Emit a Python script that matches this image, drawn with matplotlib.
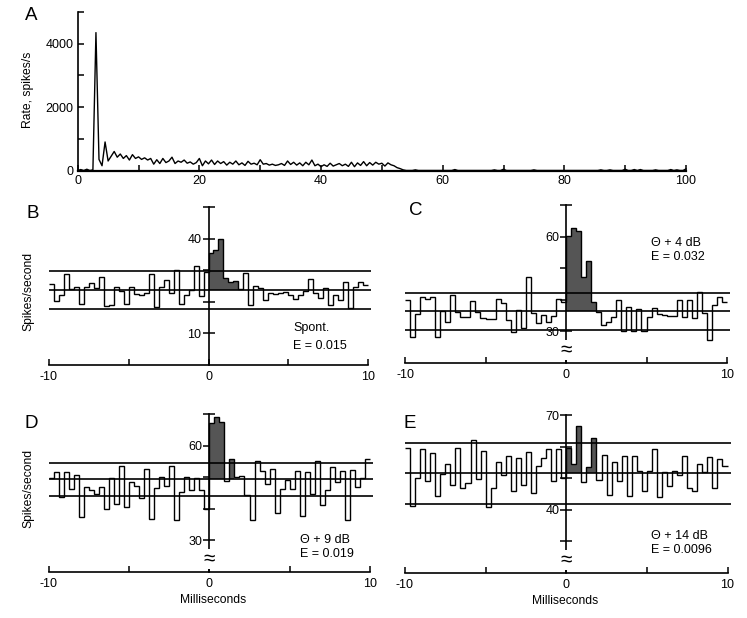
import numpy as np
import matplotlib
matplotlib.use('Agg')
import matplotlib.pyplot as plt

plt.rcParams['font.family'] = ['Liberation Sans', 'DejaVu Sans']

# ---- panel A: PSTH, 0.5 ms bins from 0 to 54 ms, then sparse late spikes
a_early = [0, 30, 0, 40, 0, 20, 4350, 350, 150, 900, 300, 450, 600, 420, 520, 380,
           470, 330, 500, 380, 430, 350, 400, 330, 380, 200, 340, 220, 380, 250,
           300, 420, 220, 300, 260, 330, 230, 270, 200, 250, 380, 150, 300, 210,
           330, 190, 300, 220, 280, 170, 260, 200, 300, 180, 240, 160, 290, 200,
           230, 180, 340, 200, 220, 170, 200, 160, 180, 220, 160, 300, 190, 260,
           170, 240, 150, 260, 180, 330, 150, 200, 120, 180, 130, 230, 140, 180,
           220, 150, 200, 130, 260, 120, 240, 160, 280, 150, 250, 170, 260, 200,
           230, 140, 240, 180, 150, 90, 60, 20, 0]
a_late_t = [55.5, 62, 68.5, 70, 75, 86, 87.5, 90, 91.5, 92.5, 95, 97.5, 98.5, 100]
a_late_rate = [20, 30, 20, 40, 20, 20, 20, 40, 30, 30, 20, 30, 20, 50]

# ---- panels B-E: 64 bins of 0.3125 ms from -10 to 10 ms (spikes/second)
b_rate = [25.6, 20.4, 22.2, 28.7, 24.1, 24.8, 19.4, 24.8, 25.9, 24.5, 27.8, 18.6,
          18.9, 24.8, 23.3, 19.3, 24.6, 22.5, 22.0, 22.8, 28.7, 18.3, 24.8, 26.9,
          22.8, 30.0, 19.4, 22.0, 23.6, 31.2, 21.7, 29.5,
          35.3, 36.3, 40.0, 27.5, 26.2, 26.6, 24.0, 29.2, 19.1, 25.1, 24.3, 20.7,
          22.8, 22.5, 22.8, 23.0, 22.2, 21.0, 22.0, 23.3, 27.1, 22.8, 21.2, 24.3,
          19.1, 22.0, 20.7, 26.2, 18.1, 24.8, 26.2, 25.4]
b_lines = [17.6, 23.6, 29.6]

c_rate = [39.9, 28.1, 35.4, 40.9, 40.2, 40.9, 28.1, 36.5, 32.9, 41.5, 36.25, 34.7,
          34.7, 39.6, 36.25, 34.2, 34.0, 34.0, 40.4, 38.9, 33.6, 29.8, 36.8, 31.0,
          47.2, 35.9, 32.6, 35.2, 32.9, 35.0, 40.4, 39.2,
          60.2, 62.8, 61.8, 47.2, 52.4, 39.2, 36.0, 32.1, 32.9, 34.7, 39.9, 30.0,
          37.8, 30.0, 37.0, 30.0, 34.7, 37.3, 35.4, 35.2, 34.9, 35.0, 39.9, 34.7,
          39.9, 34.2, 42.5, 35.7, 27.4, 38.3, 40.9, 39.2]
c_lines = [30.5, 36.3, 42.0]

d_rate = [49.6, 51.6, 43.6, 51.6, 46.4, 50.6, 37.5, 46.9, 45.9, 44.6, 46.9, 39.8,
          49.6, 41.5, 53.7, 40.7, 48.5, 47.1, 43.3, 52.7, 36.7, 46.7, 50.1, 47.1,
          53.7, 36.3, 45.4, 50.1, 45.9, 49.6, 45.9, 39.8,
          67.3, 69.1, 67.6, 48.8, 55.8, 50.1, 50.3, 44.3, 36.5, 55.0, 52.0, 47.8,
          52.7, 38.6, 46.4, 49.0, 46.4, 52.0, 37.7, 51.8, 44.8, 55.0, 41.2, 45.9,
          53.2, 48.5, 52.0, 36.5, 52.4, 46.9, 49.6, 55.8]
d_lines = [44.1, 49.3, 54.5]

e_rate = [59.6, 41.1, 50.2, 59.1, 49.1, 58.0, 44.3, 51.2, 54.5, 48.0, 59.5, 47.0,
          48.4, 62.0, 49.6, 58.7, 40.8, 47.0, 55.2, 50.9, 56.9, 45.9, 56.3, 48.0,
          58.4, 45.3, 53.9, 56.3, 59.1, 49.1, 59.3, 50.2,
          59.4, 54.6, 66.5, 48.8, 53.5, 62.6, 49.3, 57.4, 44.8, 55.0, 49.1, 56.9,
          44.3, 56.9, 52.3, 45.9, 52.3, 59.3, 44.0, 52.0, 47.5, 52.3, 50.9, 57.1,
          47.0, 45.9, 54.5, 52.0, 56.6, 47.0, 56.1, 54.0]
e_lines = [41.9, 51.6, 61.2]

W, H = 747, 618
fig = plt.figure(figsize=(W / 100, H / 100), dpi=100)


def px_axes(x0, x1, y0, y1):
    return fig.add_axes([x0 / W, 1 - y1 / H, (x1 - x0) / W, (y1 - y0) / H])


def px_text(x, y, s, **kw):
    fig.text(x / W, 1 - y / H, s, **kw)


# ---------------- A
ax = px_axes(77.7, 686, 12, 170.5)
t = np.arange(0, 100.5, 0.5)
rate = np.zeros(len(t))
rate[:len(a_early)] = a_early
for lt, lr in zip(a_late_t, a_late_rate):
    rate[int(round(lt / 0.5))] = lr
ax.plot(t, rate, color='k', lw=1.0, clip_on=False)
ax.set_xlim(0, 100)
ax.set_ylim(0, 5000)
for s in ['top', 'right']:
    ax.spines[s].set_visible(False)
ax.spines['left'].set_linewidth(1.2)
ax.spines['bottom'].set_linewidth(1.6)
ax.set_xticks(np.arange(0, 101, 10))
ax.set_xticklabels([str(v) if v % 20 == 0 else '' for v in range(0, 101, 10)])
ax.set_yticks(np.arange(0, 5001, 1000))
ax.set_yticklabels(['0', '', '2000', '', '4000', ''])
ax.tick_params(direction='in', length=4, width=1.1, labelsize=9, pad=3)
px_text(28, 90, 'Rate, spikes/s', rotation=90, ha='center', va='center', fontsize=8.7)
px_text(31, 15, 'A', ha='center', va='center', fontsize=13.5)


def psth_panel(ax, vals, lines, fill_end, ylim, yticks, ylabels, brk):
    vals = np.array(vals)
    edges = np.linspace(-10, 10, len(vals) + 1)
    lo, mean, hi = lines
    ax.set_xlim(-10, 10)
    ax.set_ylim(*ylim)
    idx = np.where((edges[:-1] >= 0) & (edges[:-1] < fill_end))[0]
    ax.stairs(np.maximum(vals[idx], mean), edges[idx[0]:idx[-1] + 2], baseline=mean,
              fill=True, color='#555555', lw=0, zorder=2)
    ax.stairs(vals, edges, baseline=None, color='k', lw=1.0, zorder=3, clip_on=False)
    ax.hlines(lines, -10, 10.2, color='k', lw=1.2, zorder=3, clip_on=False)
    for s in ['top', 'right']:
        ax.spines[s].set_visible(False)
    ax.spines['left'].set_position(('data', 0))
    ax.spines['left'].set_linewidth(1.2)
    ax.spines['bottom'].set_linewidth(1.2)
    ax.set_xticks([-10, -5, 0, 5, 10])
    ax.set_xticklabels(['-10', '', '0', '', '10'])
    ax.set_yticks(yticks)
    ax.set_yticklabels(ylabels)
    ax.tick_params(axis='y', direction='inout', length=8, width=1.1, pad=1, labelsize=9)
    ax.tick_params(axis='x', direction='in', length=4, width=1.1, pad=4, labelsize=9)
    if brk is not None:
        ax.text(0, brk, '\u2248', ha='center', va='center', fontsize=15, zorder=5,
                bbox=dict(facecolor='white', edgecolor='none', pad=0.5))


# ---------------- B
ax = px_axes(48.7, 368.3, 207, 365)
psth_panel(ax, b_rate, b_lines, 2.1, (0, 50), [10, 20, 30, 40, 50],
           ['10', '', '', '40', ''], None)
px_text(293, 328, 'Spont.', ha='left', va='center', fontsize=9)
px_text(293, 346, 'E = 0.015', ha='left', va='center', fontsize=9)
px_text(33, 213, 'B', ha='center', va='center', fontsize=13.5)
px_text(28, 291, 'Spikes/second', rotation=90, ha='center', va='center', fontsize=8.7)

# ---------------- C
ax = px_axes(405, 727, 205, 363)
psth_panel(ax, c_rate, c_lines, 1.8, (20, 70), [30, 40, 50, 60, 70],
           ['30', '', '', '60', ''], 24)
px_text(651, 243, '\u0398 + 4 dB', ha='left', va='center', fontsize=9)
px_text(651, 257, 'E = 0.032', ha='left', va='center', fontsize=9)
px_text(416, 210, 'C', ha='center', va='center', fontsize=13.5)

# ---------------- D
ax = px_axes(48.7, 370, 414, 572)
psth_panel(ax, d_rate, d_lines, 1.5, (20, 70), [30, 40, 50, 60, 70],
           ['30', '', '', '60', ''], 24)
px_text(300, 540, '\u0398 + 9 dB', ha='left', va='center', fontsize=9)
px_text(300, 554, 'E = 0.019', ha='left', va='center', fontsize=9)
px_text(31, 423, 'D', ha='center', va='center', fontsize=13.5)
px_text(28, 488, 'Spikes/second', rotation=90, ha='center', va='center', fontsize=8.7)
px_text(213, 600, 'Milliseconds', ha='center', va='center', fontsize=8.7)

# ---------------- E
ax = px_axes(405, 727.5, 415, 573)
psth_panel(ax, e_rate, e_lines, 1.8, (20, 70), [30, 40, 50, 60, 70],
           ['', '40', '', '', '70'], 24)
px_text(651, 536, '\u0398 + 14 dB', ha='left', va='center', fontsize=9)
px_text(651, 550, 'E = 0.0096', ha='left', va='center', fontsize=9)
px_text(410, 423, 'E', ha='center', va='center', fontsize=13.5)
px_text(565, 601, 'Milliseconds', ha='center', va='center', fontsize=8.7)

fig.savefig('out.png', dpi=100)
